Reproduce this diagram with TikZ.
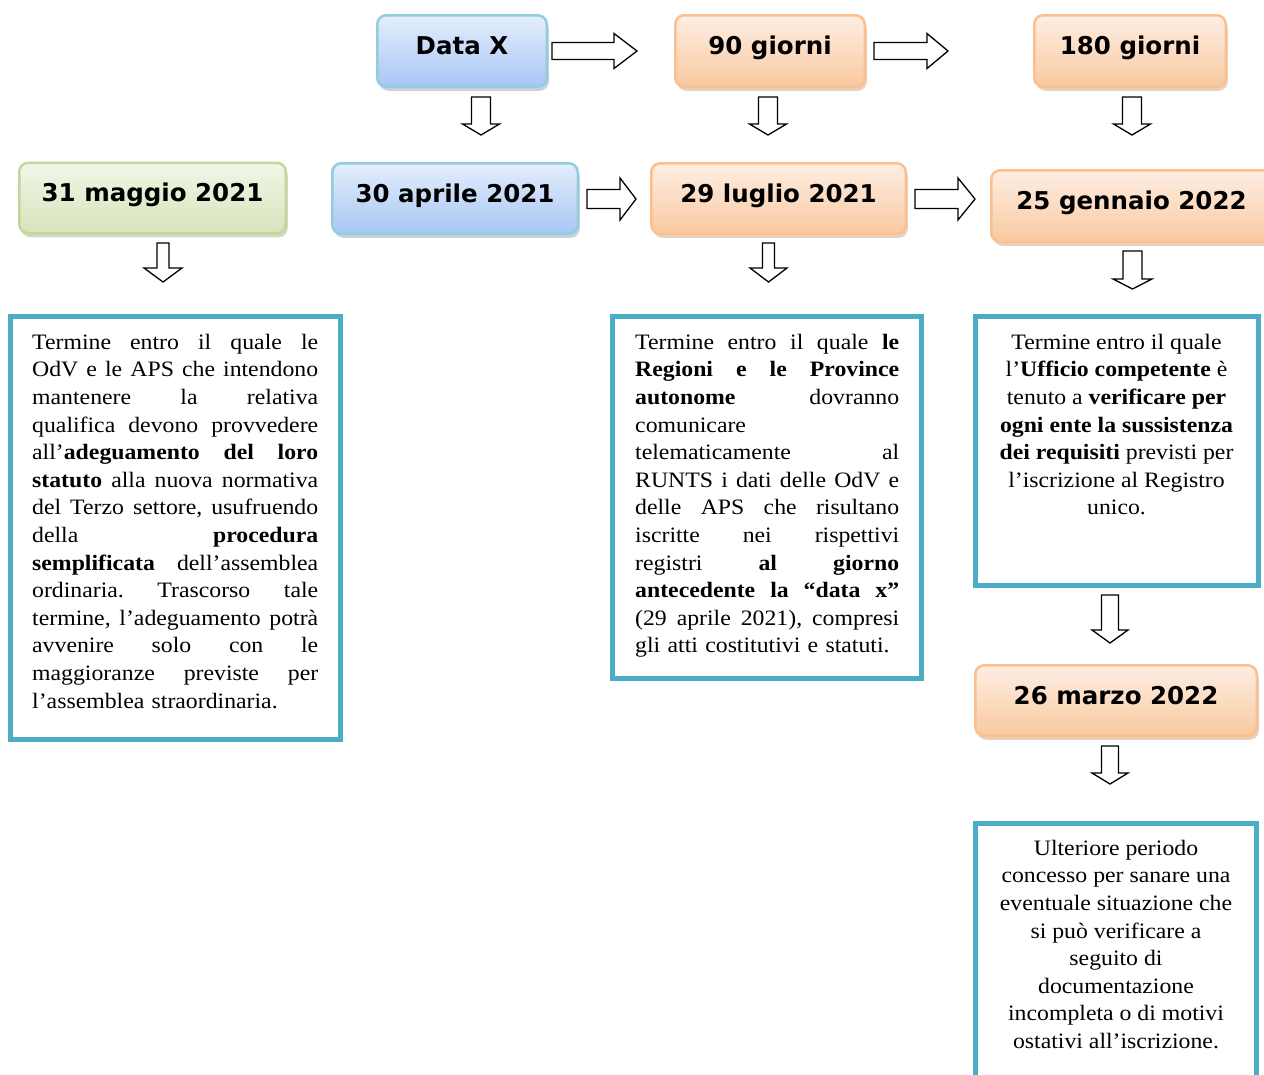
\documentclass[tikz,border=0pt]{standalone}
\usepackage{fontspec}
\setmainfont{Liberation Serif}
\newfontfamily\bodyfont[FakeStretch=1.08]{Liberation Serif}
\newfontfamily\lblfont{DejaVu Sans}
\usetikzlibrary{shadows,calc}
\definecolor{boxline}{HTML}{4BACC6}
\definecolor{bluetop}{HTML}{E4EEFC}
\definecolor{bluebot}{HTML}{A8C6F5}
\definecolor{blueline}{HTML}{93CDDD}
\definecolor{blueshadow}{HTML}{8FA6B8}
\definecolor{orangetop}{HTML}{FEEEE3}
\definecolor{orangebot}{HTML}{F9C9A0}
\definecolor{orangeline}{HTML}{FAC090}
\definecolor{orangeshadow}{HTML}{D0A27E}
\definecolor{greentop}{HTML}{F1F6E7}
\definecolor{greenbot}{HTML}{D6E4BB}
\definecolor{greenline}{HTML}{C3D69B}
\definecolor{greenshadow}{HTML}{A8B88C}
\frenchspacing
\newcommand\JL[1]{{\spaceskip=0pt\xspaceskip=0pt\makebox[286pt][s]{#1}}}
\newcommand\JM[1]{{\spaceskip=0pt\xspaceskip=0pt\makebox[264pt][s]{#1}}}
% block arrows: right (start, end, shaft half, head half, head length)
\newcommand\blockR[5]{\draw[blk] let \p1=#1, \p2=#2 in
  (\x1,\y1+#3) -- (\x2-#5,\y1+#3) -- (\x2-#5,\y1+#4) -- (\x2,\y1)
  -- (\x2-#5,\y1-#4) -- (\x2-#5,\y1-#3) -- (\x1,\y1-#3) -- cycle;}
% down (top centre, tip, shaft half, head half, head length)
\newcommand\blockD[5]{\draw[blk] let \p1=#1, \p2=#2 in
  (\x1-#3,\y1) -- (\x1-#3,\y2+#5) -- (\x1-#4,\y2+#5) -- (\x1,\y2)
  -- (\x1+#4,\y2+#5) -- (\x1+#3,\y2+#5) -- (\x1+#3,\y1) -- cycle;}
\tikzset{
  datebox/.style={rounded corners=9pt, line width=2.5pt,
    font=\lblfont\bfseries\fontsize{24.5}{28}\selectfont,
    text height=20pt, text depth=12.5pt, inner sep=0pt},
  bluebox/.style={datebox, draw=blueline, top color=bluetop, bottom color=bluebot,
    drop shadow={shadow xshift=2pt, shadow yshift=-4pt, fill=blueshadow}},
  orangebox/.style={datebox, draw=orangeline, top color=orangetop, bottom color=orangebot,
    drop shadow={shadow xshift=2pt, shadow yshift=-4pt, fill=orangeshadow}},
  greenbox/.style={datebox, draw=greenline, top color=greentop, bottom color=greenbot,
    drop shadow={shadow xshift=2pt, shadow yshift=-4pt, fill=greenshadow}},
  textbox/.style={draw=boxline, line width=5pt, inner sep=0pt, fill=white},
  bodytext/.style={inner sep=0pt, font=\bodyfont\fontsize{22}{27.6}\selectfont},
  blk/.style={draw=black, line width=1.3pt, fill=white, line join=miter}
}
\begin{document}
\begin{tikzpicture}[x=1pt,y=-1pt]
\useasboundingbox (0,0) rectangle (1264,1074);
\clip (0,0) rectangle (1264,1074);

% date boxes
\node[bluebox, minimum width=169.5pt, minimum height=71.5pt] (datax) at (462,51) {Data X};
\node[orangebox, minimum width=189.5pt, minimum height=71.5pt] (g90) at (770,51) {90 giorni};
\node[orangebox, minimum width=191.5pt, minimum height=71.5pt] (g180) at (1130,51) {180 giorni};
\node[greenbox, minimum width=266.5pt, minimum height=70.5pt] (may31) at (152.5,198) {31 maggio 2021};
\node[bluebox, minimum width=245.5pt, minimum height=70.5pt] (apr30) at (455,198.5) {30 aprile 2021};
\node[orangebox, minimum width=254.5pt, minimum height=70.5pt] (jul29) at (778.5,198.5) {29 luglio 2021};
\node[orangebox, minimum width=280.5pt, minimum height=71.5pt] (jan25) at (1131.5,206) {25 gennaio 2022};
\node[orangebox, minimum width=281.5pt, minimum height=70.5pt] (mar26) at (1116,700.5) {26 marzo 2022};

% text boxes
\node[textbox, minimum width=330.5pt, minimum height=423pt] (tbleft) at (175.25,528) {};
\node[textbox, minimum width=308.5pt, minimum height=361.5pt] (tbmid) at (766.75,497.25) {};
\node[textbox, minimum width=283pt, minimum height=268.5pt] (tbright) at (1116.5,450.75) {};
\node[textbox, minimum width=281pt, minimum height=277pt] (tbbottom) at (1115.5,961.5) {};

\node[bodytext, anchor=north west, text width=286pt, align=left] (txleft) at (32,329.68) {%
\strut\JL{Termine entro il quale le}\\
\JL{OdV e le APS che intendono}\\
\JL{mantenere la relativa}\\
\JL{qualifica devono provvedere}\\
\JL{all’\textbf{adeguamento del loro}}\\
\JL{\textbf{statuto} alla nuova normativa}\\
\JL{del Terzo settore, usufruendo}\\
\JL{della \textbf{procedura}}\\
\JL{\textbf{semplificata} dell’assemblea}\\
\JL{ordinaria. Trascorso tale}\\
\JL{termine, l’adeguamento potrà}\\
\JL{avvenire solo con le}\\
\JL{maggioranze previste per}\\
l’assemblea straordinaria.};

\node[bodytext, anchor=north west, text width=264pt, align=left] (txmid) at (635,329.68) {%
\strut\JM{Termine entro il quale \textbf{le}}\\
\JM{\textbf{Regioni e le Province}}\\
\JM{\textbf{autonome} dovranno}\\
comunicare\\
\JM{telematicamente al}\\
\JM{RUNTS i dati delle OdV e}\\
\JM{delle APS che risultano}\\
\JM{iscritte nei rispettivi}\\
\JM{registri \textbf{al giorno}}\\
\JM{\textbf{antecedente la “data x”}}\\
\JM{(29 aprile 2021), compresi}\\
gli atti costitutivi e statuti.};

\node[bodytext, anchor=north, align=center] (txright) at (1116.5,329.68) {%
\strut Termine entro il quale\\
l’\textbf{Ufficio competente} è\\
tenuto a \textbf{verificare per}\\
\textbf{ogni ente la sussistenza}\\
\textbf{dei requisiti} previsti per\\
l’iscrizione al Registro\\
unico.};

\node[bodytext, anchor=north, align=center] (txbottom) at (1116,835.68) {%
\strut Ulteriore periodo\\
concesso per sanare una\\
eventuale situazione che\\
si può verificare a\\
seguito di\\
documentazione\\
incompleta o di motivi\\
ostativi all’iscrizione.};

% right block arrows
\coordinate (r1s) at (552,51);   \coordinate (r1e) at (637,51);
\coordinate (r2s) at (874,51);   \coordinate (r2e) at (948,51);
\coordinate (r3s) at (587,199);  \coordinate (r3e) at (636,199);
\coordinate (r4s) at (915,199);  \coordinate (r4e) at (975,199);
\blockR{(r1s)}{(r1e)}{8.5pt}{17.5pt}{23pt}
\blockR{(r2s)}{(r2e)}{8.5pt}{17.5pt}{21pt}
\blockR{(r3s)}{(r3e)}{9.5pt}{21pt}{16pt}
\blockR{(r4s)}{(r4e)}{9.5pt}{21pt}{17pt}

% down block arrows
\coordinate (d1s) at (481,97);    \coordinate (d1e) at (481,135);
\coordinate (d2s) at (768,97);    \coordinate (d2e) at (768,135);
\coordinate (d3s) at (1132,97);   \coordinate (d3e) at (1132,135);
\coordinate (d4s) at (163,243);   \coordinate (d4e) at (163,282);
\coordinate (d5s) at (768.5,243); \coordinate (d5e) at (768.5,282);
\coordinate (d6s) at (1132.5,251);\coordinate (d6e) at (1132.5,289);
\coordinate (d7s) at (1110,595);  \coordinate (d7e) at (1110,643);
\coordinate (d8s) at (1110,746);  \coordinate (d8e) at (1110,784);
\blockD{(d1s)}{(d1e)}{9.5pt}{18.5pt}{11pt}
\blockD{(d2s)}{(d2e)}{9.5pt}{18.5pt}{11pt}
\blockD{(d3s)}{(d3e)}{9.5pt}{18.5pt}{11pt}
\blockD{(d4s)}{(d4e)}{6pt}{19pt}{14pt}
\blockD{(d5s)}{(d5e)}{6pt}{18.5pt}{14pt}
\blockD{(d6s)}{(d6e)}{9.5pt}{19.5pt}{10pt}
\blockD{(d7s)}{(d7e)}{8.5pt}{18pt}{13pt}
\blockD{(d8s)}{(d8e)}{8.5pt}{18pt}{11pt}
\end{tikzpicture}
\end{document}
